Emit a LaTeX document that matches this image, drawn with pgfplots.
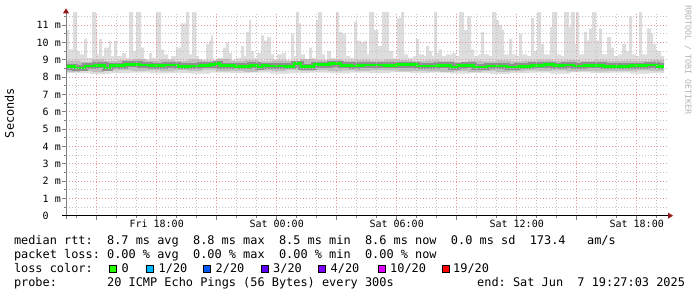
\documentclass[border=0pt]{standalone}
\usepackage{pgfplots}
\pgfplotsset{compat=1.18}
\usepackage{fontspec}
\newfontfamily\monofont{DejaVu Sans Mono}
\newcommand\legfont{\monofont\fontsize{11.9pt}{13.8pt}\selectfont}
\newcommand\tickfont{\monofont\fontsize{10pt}{12pt}\selectfont}
\definecolor{smokeA}{RGB}{221,221,221}
\definecolor{smokeB}{RGB}{190,190,190}
\definecolor{smokeC}{RGB}{125,125,125}
\definecolor{medgreen}{RGB}{0,255,0}
\definecolor{gridred}{RGB}{235,150,150}
\definecolor{gridgray}{RGB}{195,195,195}
\definecolor{arrowred}{RGB}{150,25,25}
\definecolor{lossA}{RGB}{38,255,0}
\definecolor{lossB}{RGB}{0,184,255}
\definecolor{lossC}{RGB}{0,89,255}
\definecolor{lossD}{RGB}{94,0,255}
\definecolor{lossE}{RGB}{126,0,255}
\definecolor{lossF}{RGB}{221,0,255}
\definecolor{lossG}{RGB}{255,0,0}
\begin{document}
\frenchspacing
\begin{tikzpicture}
\path[use as bounding box] (0,0) rectangle (697pt,297pt);
\begin{axis}[
  name=a,
  at={(66pt,81.3pt)}, anchor=south west,
  width=602pt, height=202.8pt, scale only axis,
  xmin=66, xmax=668, ymin=0, ymax=11.7,
  axis on top,
  axis line style={draw=none},
  xtick={96.7,156.7,216.7,276.7,336.7,396.7,456.7,516.7,576.7,636.7},
  xticklabels={,Fri 18:00,,Sat 00:00,,Sat 06:00,,Sat 12:00,,Sat 18:00},
  minor xtick={76.7,116.7,136.7,176.7,196.7,236.7,256.7,296.7,316.7,356.7,376.7,416.7,436.7,476.7,496.7,536.7,556.7,596.7,616.7,656.7},
  ytick={0,1,2,3,4,5,6,7,8,9,10,11},
  yticklabels={0\hphantom{\ m},1 m,2 m,3 m,4 m,5 m,6 m,7 m,8 m,9 m,10 m,11 m},
  minor ytick={0.5,1.5,2.5,3.5,4.5,5.5,6.5,7.5,8.5,9.5,10.5,11.5},
  grid=both,
  major grid style={draw=gridred, line width=1pt, dash pattern=on 1pt off 2pt},
  minor grid style={draw=gridgray, line width=1pt, dash pattern=on 1pt off 2pt},
  xtick pos=bottom, ytick pos=left,
  tick align=outside,
  major tick length=4pt, minor tick length=2.5pt,
  tick style={draw=gray, line width=0.8pt},
  xticklabel style={font=\tickfont, inner sep=0pt, anchor=base, yshift=-8pt},
  yticklabel style={font=\tickfont, inner sep=0pt, anchor=east, xshift=-1pt},
]
% outer smoke: max values (spikes) down to min values
\addplot[const plot, fill=smokeA, draw=none] coordinates {
(66,10.7) (69,9.6) (73,11.8) (77,9.5) (80,9.3) (84,10.2) (87,9.1) (92,11.8) (96,10.7) (97,9.3)
(99,10.2) (102,9.2) (104,9.7) (109,10.1) (111,9.2) (114,10.1) (117,9.2) (122,9.4) (126,9.1) (129,11.8)
(133,9.5) (136,11.8) (141,9.7) (144,9.0) (149,9.4) (152,9.1) (156,11.8) (161,9.6) (164,9.3) (168,9.0)
(171,9.2) (176,9.7) (181,11.1) (186,11.8) (189,9.3) (192,11.8) (196,9.2) (199,9.0) (206,9.9) (209,10.1)
(211,10.4) (213,9.0) (218,9.1) (223,9.7) (226,10.0) (229,9.4) (232,9.0) (236,9.1) (241,9.8) (244,9.2)
(246,10.6) (249,11.3) (251,9.5) (254,9.1) (257,9.4) (261,10.4) (264,10.1) (267,10.3) (271,9.3) (274,9.0)
(277,9.3) (282,9.4) (286,9.0) (291,10.5) (294,9.2) (296,11.8) (299,11.1) (301,9.3) (305,9.0) (309,9.7)
(312,9.1) (316,11.3) (318,11.8) (322,9.3) (325,9.0) (327,9.5) (331,9.1) (336,11.8) (339,10.6) (342,10.5)
(346,9.2) (350,9.1) (354,11.2) (357,10.1) (361,10.0) (364,10.1) (367,9.3) (369,11.8) (374,10.7) (378,9.8)
(382,11.8) (389,9.5) (393,9.1) (397,11.4) (401,11.8) (404,9.3) (408,9.1) (413,9.2) (416,10.2) (419,9.3)
(424,9.2) (426,9.8) (429,9.5) (432,9.2) (434,11.8) (437,9.4) (439,9.6) (442,9.2) (446,9.3) (452,9.4)
(456,9.2) (459,11.8) (464,10.7) (467,11.5) (471,9.6) (474,9.2) (478,9.3) (481,10.6) (484,9.3) (489,9.2)
(492,11.8) (496,11.3) (499,11.0) (502,10.7) (504,9.3) (509,10.2) (512,9.3) (517,9.2) (519,10.5) (522,9.3)
(527,9.2) (531,11.4) (534,9.5) (537,11.8) (541,9.9) (544,9.3) (550,10.9) (552,11.8) (557,9.3) (561,9.2)
(564,11.8) (569,10.9) (571,11.8) (575,9.9) (576,11.8) (579,9.3) (584,10.6) (587,10.1) (589,10.8) (592,11.8)
(596,10.1) (599,10.8) (602,9.3) (607,10.3) (611,9.7) (614,9.2) (618,9.3) (622,9.9) (626,9.5) (629,11.5)
(632,9.3) (636,9.2) (639,11.8) (642,9.3) (647,10.8) (651,10.5) (653,9.9) (656,9.5) (661,9.2) (664,9.2)
(664,8.24) (650,8.2) (630,8.26) (610,8.22) (590,8.27) (570,8.2) (550,8.25) (530,8.22) (510,8.18) (490,8.24)
(470,8.2) (450,8.25) (430,8.22) (410,8.27) (390,8.23) (370,8.26) (350,8.21) (330,8.25) (310,8.22) (290,8.2)
(270,8.25) (250,8.22) (230,8.26) (210,8.2) (190,8.24) (170,8.21) (150,8.26) (130,8.22) (110,8.18) (90,8.22)
(66,8.2)
};
% inner smoke
\addplot[const plot, fill=smokeB, draw=none] coordinates {
(66,8.95) (80,8.88) (92,9.02) (104,8.92) (118,8.98) (132,9.05) (146,8.95) (160,9.0) (174,8.92) (188,9.02)
(202,8.95) (216,9.05) (230,8.92) (244,8.98) (258,8.9) (272,8.96) (286,8.92) (300,9.05) (314,8.98) (328,9.02)
(342,8.95) (356,8.98) (370,8.95) (384,9.0) (398,8.97) (412,8.92) (426,8.96) (440,8.93) (454,8.88) (468,8.95)
(482,8.9) (496,8.96) (510,8.9) (524,8.95) (538,9.0) (552,8.95) (566,8.98) (580,8.92) (594,8.96) (608,8.92)
(622,8.95) (636,8.93) (650,8.98) (664,8.98)
(664,8.36) (650,8.38) (636,8.34) (622,8.35) (608,8.33) (594,8.35) (580,8.33) (566,8.38) (552,8.36) (538,8.38)
(524,8.34) (510,8.3) (496,8.36) (482,8.3) (468,8.35) (454,8.28) (440,8.32) (426,8.36) (412,8.33) (398,8.38)
(384,8.4) (370,8.36) (356,8.38) (342,8.34) (328,8.4) (314,8.36) (300,8.42) (286,8.34) (272,8.38) (258,8.3)
(244,8.36) (230,8.33) (216,8.42) (202,8.35) (188,8.4) (174,8.32) (160,8.38) (146,8.35) (132,8.4) (118,8.38)
(104,8.28) (92,8.36) (80,8.3) (66,8.32)
};
% median (dark smoke under it, then loss colour line)
\addplot[const plot, draw=smokeC, line width=6pt, opacity=0.7] coordinates {
(66,8.60) (75,8.52) (85,8.63) (95,8.68) (105,8.52) (110,8.66) (125,8.73) (140,8.70) (150,8.65) (165,8.69)
(178,8.62) (190,8.64) (200,8.68) (210,8.72) (216,8.78) (220,8.66) (235,8.62) (250,8.67) (258,8.58) (262,8.66)
(268,8.63) (285,8.62) (294,8.77) (301,8.60) (314,8.71) (330,8.77) (341,8.67) (352,8.63) (357,8.67) (364,8.70)
(384,8.67) (397,8.72) (417,8.63) (437,8.67) (451,8.57) (457,8.65) (464,8.67) (474,8.57) (487,8.63) (507,8.57)
(517,8.62) (531,8.67) (544,8.72) (554,8.65) (564,8.70) (574,8.63) (584,8.67) (604,8.62) (630,8.65) (647,8.70)
(657,8.62) (664,8.62)
};
\addplot[const plot, draw=medgreen, line width=2.6pt] coordinates {
(66,8.60) (75,8.52) (85,8.63) (95,8.68) (105,8.52) (110,8.66) (125,8.73) (140,8.70) (150,8.65) (165,8.69)
(178,8.62) (190,8.64) (200,8.68) (210,8.72) (216,8.78) (220,8.66) (235,8.62) (250,8.67) (258,8.58) (262,8.66)
(268,8.63) (285,8.62) (294,8.77) (301,8.60) (314,8.71) (330,8.77) (341,8.67) (352,8.63) (357,8.67) (364,8.70)
(384,8.67) (397,8.72) (417,8.63) (437,8.67) (451,8.57) (457,8.65) (464,8.67) (474,8.57) (487,8.63) (507,8.57)
(517,8.62) (531,8.67) (544,8.72) (554,8.65) (564,8.70) (574,8.63) (584,8.67) (604,8.62) (630,8.65) (647,8.70)
(657,8.62) (664,8.62)
};
\end{axis}
% axis lines and arrows
\draw[draw=gray, line width=1pt] (66pt,78.3pt) -- (66pt,284pt);
\fill[arrowred] (63pt,283.7pt) -- (69pt,283.7pt) -- (66pt,288.7pt) -- cycle;
\draw[draw=black, line width=1.2pt] (62pt,81.3pt) -- (668pt,81.3pt);
\fill[arrowred] (668pt,78.3pt) -- (668pt,84.3pt) -- (673pt,81.3pt) -- cycle;
% axis title and watermark
\node[rotate=90, font=\legfont, inner sep=0pt] at (9.5pt,184pt) {Seconds};
\node[rotate=-90, font=\monofont\fontsize{8.3pt}{10pt}\selectfont, text=gray!60, inner sep=0pt] at (688pt,237pt) {RRDTOOL / TOBI OETIKER};
% legend
\node[anchor=base west, inner sep=0pt, font=\legfont] at (13.8pt,52pt) {median rtt:~~8.7 ms avg~~8.8 ms max~~8.5 ms min~~8.6 ms now~~0.0 ms sd~~173.4~~~am/s};
\node[anchor=base west, inner sep=0pt, font=\legfont] at (13.8pt,38.5pt) {packet loss: 0.00 \% avg~~0.00 \% max~~0.00 \% min~~0.00 \% now};
\node[anchor=base west, inner sep=0pt, font=\legfont] at (13.8pt,24.7pt) {loss color:};
\filldraw[fill=lossA, draw=black, line width=0.6pt] (109pt,24.7pt) rectangle ++(7pt,7pt);
\filldraw[fill=lossB, draw=black, line width=0.6pt] (146pt,24.7pt) rectangle ++(7pt,7pt);
\filldraw[fill=lossC, draw=black, line width=0.6pt] (203pt,24.7pt) rectangle ++(7pt,7pt);
\filldraw[fill=lossD, draw=black, line width=0.6pt] (261pt,24.7pt) rectangle ++(7pt,7pt);
\filldraw[fill=lossE, draw=black, line width=0.6pt] (318pt,24.7pt) rectangle ++(7pt,7pt);
\filldraw[fill=lossF, draw=black, line width=0.6pt] (378pt,24.7pt) rectangle ++(7pt,7pt);
\filldraw[fill=lossG, draw=black, line width=0.6pt] (442pt,24.7pt) rectangle ++(7pt,7pt);
\node[anchor=base west, inner sep=0pt, font=\legfont] at (121.5pt,24.7pt) {0};
\node[anchor=base west, inner sep=0pt, font=\legfont] at (158.5pt,24.7pt) {1/20};
\node[anchor=base west, inner sep=0pt, font=\legfont] at (215.5pt,24.7pt) {2/20};
\node[anchor=base west, inner sep=0pt, font=\legfont] at (273pt,24.7pt) {3/20};
\node[anchor=base west, inner sep=0pt, font=\legfont] at (330.5pt,24.7pt) {4/20};
\node[anchor=base west, inner sep=0pt, font=\legfont] at (390pt,24.7pt) {10/20};
\node[anchor=base west, inner sep=0pt, font=\legfont] at (453pt,24.7pt) {19/20};
\node[anchor=base west, inner sep=0pt, font=\legfont] at (13.8pt,10.7pt) {probe:~~~~~~~20 ICMP Echo Pings (56 Bytes) every 300s};
\node[anchor=base west, inner sep=0pt, font=\legfont] at (477pt,10.7pt) {end: Sat Jun~~7 19:27:03 2025};
\end{tikzpicture}
\end{document}
